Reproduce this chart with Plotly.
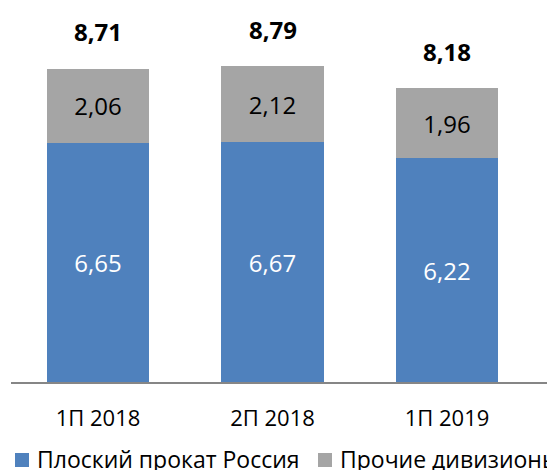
import plotly.graph_objects as go

categories = ["1П 2018", "2П 2018", "1П 2019"]
flat_russia = [6.65, 6.67, 6.22]
other_div = [2.06, 2.12, 1.96]
totals = [8.71, 8.79, 8.18]
series_names = ["Плоский прокат Россия", "Прочие дивизионы"]
series_colors = ["#4F81BD", "#A5A5A5"]

def fmt(v):
    return f"{v:.2f}".replace(".", ",")

FONT = "Open Sans"
W, H = 555, 470
# page body has an 8px default margin; layout is designed in figure pixels
ML, MR, MT, MB = 3, 0, 12, 96
PW, PH = W - ML - MR, H - MT - MB
PX_PER_CAT = 174.5
PX_PER_UNIT = 35.94

def px2paper_x(px):
    return (px - ML) / PW

def px2paper_y(py):
    return (H - MB - py) / PH

xs = list(range(len(categories)))
x_lo = -(90 - ML) / PX_PER_CAT
x_hi = x_lo + PW / PX_PER_CAT

fig = go.Figure()
fig.add_trace(go.Bar(
    x=xs, y=flat_russia, name=series_names[0],
    marker=dict(color=series_colors[0], line=dict(width=0)),
    text=[fmt(v) for v in flat_russia], textposition="inside",
    insidetextanchor="middle", textangle=0,
    textfont=dict(family=FONT, size=24, color="white"),
    width=0.585,
))
fig.add_trace(go.Bar(
    x=xs, y=other_div, name=series_names[1],
    marker=dict(color=series_colors[1], line=dict(width=0)),
    text=[fmt(v) for v in other_div], textposition="inside",
    insidetextanchor="middle", textangle=0,
    textfont=dict(family=FONT, size=24, color="black"),
    width=0.585,
))

for x, t in zip(xs, totals):
    fig.add_annotation(x=x, y=t, text=f"<b>{fmt(t)}</b>", showarrow=False,
                       yanchor="middle", yshift=37,
                       font=dict(family=FONT, size=24, color="black"))

# manual legend (reference legend runs off the right edge)
legend_marker_px = [7, 310]
for name, col, mx in zip(series_names, series_colors, legend_marker_px):
    fig.add_shape(type="rect", xref="paper", yref="paper",
                  x0=px2paper_x(mx), x1=px2paper_x(mx + 14),
                  y0=px2paper_y(459), y1=px2paper_y(445),
                  fillcolor=col, line=dict(width=0))
    fig.add_annotation(xref="paper", yref="paper",
                       x=px2paper_x(mx + 20), y=px2paper_y(451),
                       xanchor="left", yanchor="middle", showarrow=False,
                       text=name, font=dict(family=FONT, size=23, color="black"))

fig.update_layout(
    width=W, height=H,
    barmode="stack",
    margin=dict(l=ML, r=MR, t=MT, b=MB),
    paper_bgcolor="white", plot_bgcolor="white",
    font=dict(family=FONT, size=20, color="black"),
    showlegend=False,
    xaxis=dict(range=[x_lo, x_hi], tickmode="array", tickvals=xs, ticktext=categories,
               showline=True, linecolor="#868686", linewidth=2, showgrid=False,
               zeroline=False, ticks="", ticklabelstandoff=16, automargin=False,
               tickfont=dict(family=FONT, size=22, color="black")),
    yaxis=dict(range=[0, PH / PX_PER_UNIT], visible=False, showgrid=False, zeroline=False,
               automargin=False),
)

fig.write_html("out.html")
